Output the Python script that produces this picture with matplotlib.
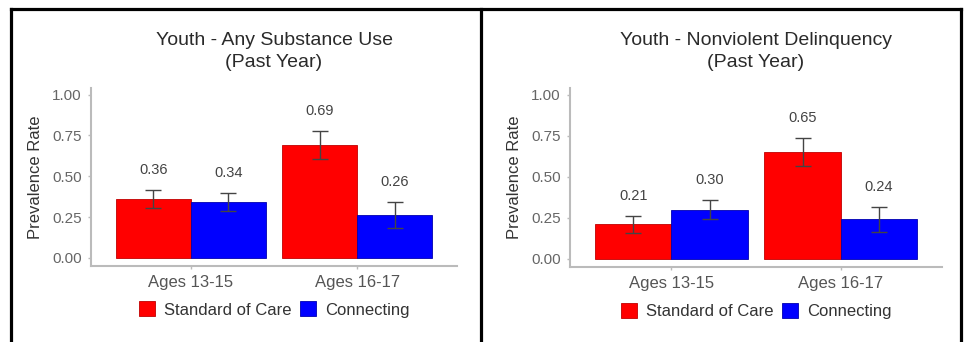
import matplotlib
matplotlib.use("Agg")
import matplotlib.pyplot as plt
from matplotlib.lines import Line2D
import numpy as np

plt.rcParams["font.family"] = ["Liberation Sans", "DejaVu Sans"]

# data for both panels
groups = ["Ages 13-15", "Ages 16-17"]
series = ["Standard of Care", "Connecting"]
colors = ["#FF0000", "#0000FF"]
edges = ["#C00000", "#0000B0"]

substance_soc = [0.36, 0.69]
substance_con = [0.34, 0.26]
substance_soc_err = [0.055, 0.085]
substance_con_err = [0.055, 0.08]

delinq_soc = [0.21, 0.65]
delinq_con = [0.30, 0.24]
delinq_soc_err = [0.05, 0.085]
delinq_con_err = [0.055, 0.075]

yticks = [0.0, 0.25, 0.5, 0.75, 1.0]
ytick_labels = ["0.00", "0.25", "0.50", "0.75", "1.00"]

W, H = 964, 342
fig = plt.figure(figsize=(W / 100, H / 100), dpi=100)
fig.patch.set_facecolor("white")


def px_box(left, top, right, bottom):
    return [left / W, 1 - bottom / H, (right - left) / W, (bottom - top) / H]


def panel(ax, title, soc, con, soc_err, con_err, label_x):
    x = np.arange(1, len(groups) + 1)
    bw = 0.45
    for k, (vals, errs) in enumerate([(soc, soc_err), (con, con_err)]):
        pos = x + (k - 0.5) * bw
        ax.bar(pos, vals, width=bw, color=colors[k], edgecolor=edges[k],
               linewidth=0.6, label=series[k], zorder=2)
        ax.errorbar(pos, vals, yerr=errs, fmt="none", ecolor="#444444",
                    elinewidth=1.0, capsize=5.5, capthick=1.0, zorder=3)
        for p, v, e in zip(pos, vals, errs):
            ax.text(p, v + e + 0.125, f"{v:.2f}", ha="center", va="center",
                    fontsize=10.5, color="#444444")

    ax.set_xlim(0.4, 2.6)
    ax.set_ylim(-0.05, 1.04)
    ax.set_xticks(x)
    ax.set_xticklabels(groups, fontsize=12, color="#555555")
    ax.set_yticks(yticks)
    ax.set_yticklabels(ytick_labels, fontsize=11, color="#666666")
    ax.tick_params(axis="both", length=2.5, width=1, color="#BBBBBB", pad=4)
    for s in ["top", "right"]:
        ax.spines[s].set_visible(False)
    for s in ["left", "bottom"]:
        ax.spines[s].set_color("#BBBBBB")
        ax.spines[s].set_linewidth(1.5)
    ax.set_ylabel("Prevalence Rate", fontsize=12, color="#333333")
    ax.yaxis.set_label_coords(label_x, 0.5)
    ax.set_title(title, fontsize=14, color="#2a2a2a", pad=15, linespacing=1.4)
    ax.legend(loc="upper center", bbox_to_anchor=(0.5, -0.115), ncol=2,
              frameon=False, fontsize=12, handlelength=1.0, handleheight=1.0,
              handletextpad=0.5, columnspacing=0.5, labelcolor="#333333")


ax1 = fig.add_axes(px_box(91, 88, 457, 266))
panel(ax1, "Youth - Any Substance Use\n(Past Year)", substance_soc,
      substance_con, substance_soc_err, substance_con_err, -0.13)

ax2 = fig.add_axes(px_box(570, 88, 942, 267))
panel(ax2, "Youth - Nonviolent Delinquency\n(Past Year)", delinq_soc,
      delinq_con, delinq_soc_err, delinq_con_err, -0.13)

# black frame around the two panels
def fline(xs, ys):
    fig.add_artist(Line2D([v / W for v in xs], [1 - v / H for v in ys],
                          color="black", linewidth=2.3, solid_capstyle="projecting"))


fline([10.5, 960.5], [9, 9])
fline([10.5, 10.5], [9, H + 5])
fline([481, 481], [9, H + 5])
fline([960.5, 960.5], [9, H + 5])

fig.savefig("out.png", dpi=100, facecolor="white")
